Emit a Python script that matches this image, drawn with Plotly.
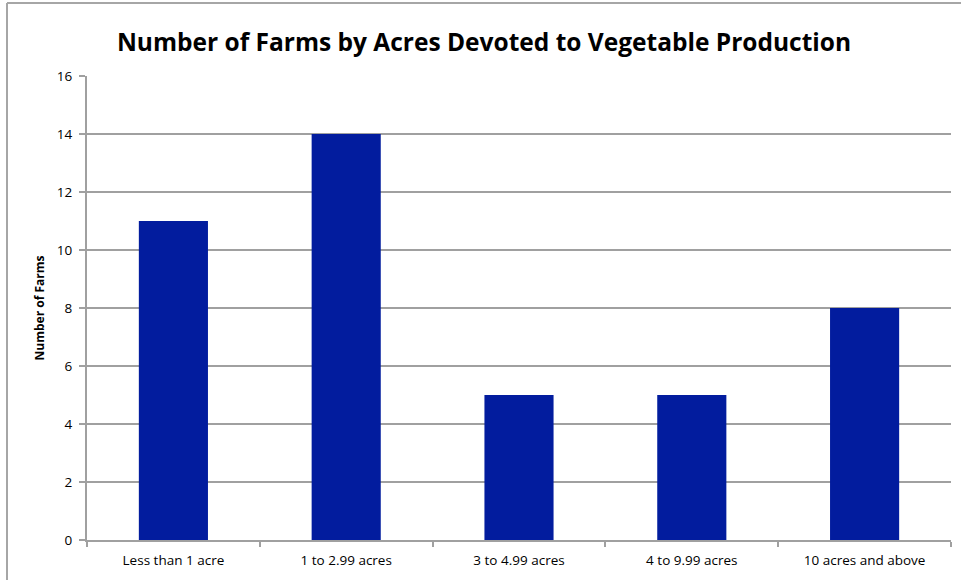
import plotly.graph_objects as go

categories = ["Less than 1 acre", "1 to 2.99 acres", "3 to 4.99 acres", "4 to 9.99 acres", "10 acres and above"]
farms = [11, 14, 5, 5, 8]
y_ticks = [0, 2, 4, 6, 8, 10, 12, 14, 16]

W, H = 961, 580
L, R, T, B = 87, 10, 76, 40
pw, ph = W - L - R, H - T - B

fig = go.Figure(go.Bar(
    x=categories, y=farms,
    marker=dict(color="#021C9E", line=dict(width=0)),
    width=0.4,
))

# outer chart frame: only its left and top edges fall inside the page
frame_x = (7 - L) / pw
frame_y = (T + ph - 3) / ph
frame_line = dict(color="#A6A6A6", width=2)
fig.add_shape(type="line", xref="paper", yref="paper",
              x0=frame_x, x1=frame_x, y0=-0.2, y1=frame_y, line=frame_line)
fig.add_shape(type="line", xref="paper", yref="paper",
              x0=frame_x, x1=1.2, y0=frame_y, y1=frame_y, line=frame_line)

fig.update_layout(
    width=W, height=H,
    margin=dict(l=L, r=R, t=T, b=B),
    paper_bgcolor="white", plot_bgcolor="white",
    showlegend=False,
    title=dict(text="<b>Number of Farms by Acres Devoted to Vegetable Production</b>",
               x=484 / W, xanchor="center", y=1 - 42 / H, yanchor="middle",
               font=dict(family="Open Sans", size=24.5, color="black")),
    font=dict(family="Open Sans", color="black"),
    xaxis=dict(
        type="category", tickson="boundaries",
        showline=True, linecolor="#A0A0A0", linewidth=2,
        ticks="outside", ticklen=5, tickcolor="#A0A0A0", tickwidth=2,
        showgrid=False, tickfont=dict(size=13.5, color="black"),
        ticklabelstandoff=7,
    ),
    yaxis=dict(
        range=[0, 16], tickvals=y_ticks,
        showline=True, linecolor="#A0A0A0", linewidth=2,
        ticks="outside", ticklen=6, tickcolor="#A0A0A0", tickwidth=2,
        showgrid=True, gridcolor="#A0A0A0", gridwidth=1.5,
        zeroline=False, tickfont=dict(size=13.5, color="black"),
        ticklabelstandoff=4,
        title=dict(text="<b>Number of Farms</b>", font=dict(size=12, color="black"), standoff=10),
    ),
)

fig.write_html("out.html")
